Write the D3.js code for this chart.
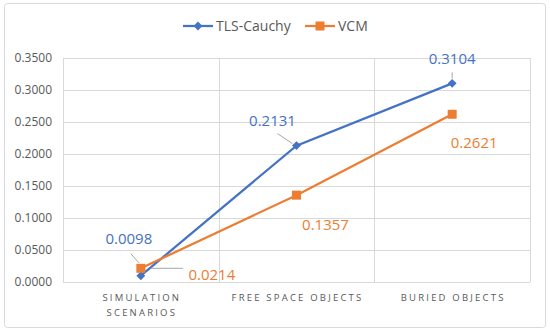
<!DOCTYPE html>
<html>
<head>
<meta charset="utf-8">
<script src="https://cdn.jsdelivr.net/npm/d3@7"></script>
<style>
  body { margin: 0; background: #fff; }
  text { font-family: "Open Sans", "Noto Sans", sans-serif; }
</style>
</head>
<body>
<div id="chart-area"></div>
<script>
// data
const categories = ["SIMULATION SCENARIOS", "FREE SPACE OBJECTS", "BURIED OBJECTS"]
const tlsCauchy = [0.0098, 0.2131, 0.3104]
const vcm = [0.0214, 0.1357, 0.2621]
const yTicks = [0, 0.05, 0.1, 0.15, 0.2, 0.25, 0.3, 0.35]

const W = 550, H = 332
const MARGIN = { LEFT: 63, RIGHT: 20, TOP: 58, BOTTOM: 50 }
const WIDTH = W - MARGIN.LEFT - MARGIN.RIGHT
const HEIGHT = H - MARGIN.TOP - MARGIN.BOTTOM

const BLUE = "#4472C4", ORANGE = "#ED7D31"

const svg = d3.select("#chart-area").append("svg")
    .attr("width", W)
    .attr("height", H)

// chart border
svg.append("rect")
    .attr("x", 4.5).attr("y", 3.5)
    .attr("width", 541).attr("height", 324)
    .attr("rx", 3)
    .attr("fill", "#fff")
    .attr("stroke", "#d9d9d9")

const g = svg.append("g")
    .attr("transform", `translate(${MARGIN.LEFT}, ${MARGIN.TOP})`)

// scales
const x = d3.scaleBand().domain(categories).range([0, WIDTH])
const y = d3.scaleLinear().domain([0, 0.35]).range([HEIGHT, 0])
const cx = d => x(d) + x.bandwidth() / 2

// gridlines
g.selectAll(".hgrid").data(yTicks).enter().append("line")
    .attr("x1", 0).attr("x2", WIDTH)
    .attr("y1", d => Math.round(y(d)) + 0.5).attr("y2", d => Math.round(y(d)) + 0.5)
    .attr("stroke", "#d9d9d9")
g.selectAll(".vgrid").data(categories.concat([null])).enter().append("line")
    .attr("x1", d => Math.round(d ? x(d) : WIDTH) + 0.5)
    .attr("x2", d => Math.round(d ? x(d) : WIDTH) + 0.5)
    .attr("y1", 0).attr("y2", HEIGHT)
    .attr("stroke", "#d9d9d9")

// y axis
const yAxisCall = d3.axisLeft(y).tickValues(yTicks).tickFormat(d3.format(".4f")).tickSize(0).tickPadding(11)
const yAxis = g.append("g").call(yAxisCall)
yAxis.select(".domain").remove()
yAxis.selectAll("text")
    .attr("font-size", "12px")
    .attr("font-family", "'Open Sans', sans-serif")
    .attr("fill", "#595959")

// x axis labels (two lines, letter spaced)
const xLabels = g.append("g").attr("transform", `translate(0, ${HEIGHT})`)
categories.forEach(c => {
    const words = c === "SIMULATION SCENARIOS" ? ["SIMULATION", "SCENARIOS"] : [c]
    const t = xLabels.append("text")
        .attr("x", cx(c))
        .attr("y", 19)
        .attr("text-anchor", "middle")
        .attr("font-size", "9.5px")
        .attr("letter-spacing", "2.2px")
        .attr("fill", "#595959")
    words.forEach((w, i) => {
        t.append("tspan").attr("x", cx(c) + 1).attr("dy", i === 0 ? 0 : 15).text(w)
    })
})

// lines
const series = [
    { name: "TLS-Cauchy", values: tlsCauchy, color: BLUE, marker: "diamond" },
    { name: "VCM", values: vcm, color: ORANGE, marker: "square" }
]
const line = d3.line()
    .x((d, i) => cx(categories[i]))
    .y(d => y(d))

series.forEach(s => {
    g.append("path")
        .attr("fill", "none")
        .attr("stroke", s.color)
        .attr("stroke-width", 2.25)
        .attr("d", line(s.values))
})

// markers
function drawMarker(sel, type, color, px, py) {
    if (type === "diamond") {
        sel.append("path")
            .attr("d", d3.symbol().type(d3.symbolDiamond2).size(50)())
            .attr("transform", `translate(${px},${py})`)
            .attr("fill", color)
    } else {
        sel.append("rect")
            .attr("x", px - 4.5).attr("y", py - 4.5)
            .attr("width", 9).attr("height", 9)
            .attr("fill", color)
    }
}
series.forEach(s => {
    s.values.forEach((v, i) => drawMarker(g, s.marker, s.color, cx(categories[i]), y(v)))
})

// data labels: offsets relative to the point (text anchor middle), leader lines
const labelOffsets = {
    "TLS-Cauchy": [[-12, -32], [-24, -20], [0, -19]],
    "VCM": [[71, 12], [29, 35], [22, 34]]
}
const leaders = {
    "TLS-Cauchy": [[[-10, -22], [-2, -13]], [[-19, -12], [-4, -2]], [[0, -11], [0, -5]]],
    "VCM": [[[10, 0], [42, 0]], null, null]
}
series.forEach(s => {
    s.values.forEach((v, i) => {
        const px = cx(categories[i]), py = y(v)
        const ld = leaders[s.name][i]
        if (ld) {
            g.append("line")
                .attr("x1", px + ld[0][0]).attr("y1", py + ld[0][1])
                .attr("x2", px + ld[1][0]).attr("y2", py + ld[1][1])
                .attr("stroke", "#a6a6a6")
                .attr("stroke-width", 1)
        }
        const o = labelOffsets[s.name][i]
        g.append("text")
            .attr("x", px + o[0])
            .attr("y", py + o[1])
            .attr("text-anchor", "middle")
            .attr("font-size", "15px")
            .attr("fill", s.color)
            .text(d3.format(".4f")(v))
    })
})

// legend
const legend = svg.append("g").attr("transform", "translate(183, 26)")
const legendItems = [
    { s: series[0], x: 0 },
    { s: series[1], x: 122 }
]
legendItems.forEach(li => {
    const lg = legend.append("g").attr("transform", `translate(${li.x}, 0)`)
    lg.append("line")
        .attr("x1", 0).attr("x2", 30)
        .attr("y1", 0).attr("y2", 0)
        .attr("stroke", li.s.color)
        .attr("stroke-width", 2.25)
    drawMarker(lg, li.s.marker, li.s.color, 15, 0)
    lg.append("text")
        .attr("x", 33)
        .attr("y", 5)
        .attr("font-size", "14px")
        .attr("fill", "#595959")
        .text(li.s.name)
})
</script>
</body>
</html>
